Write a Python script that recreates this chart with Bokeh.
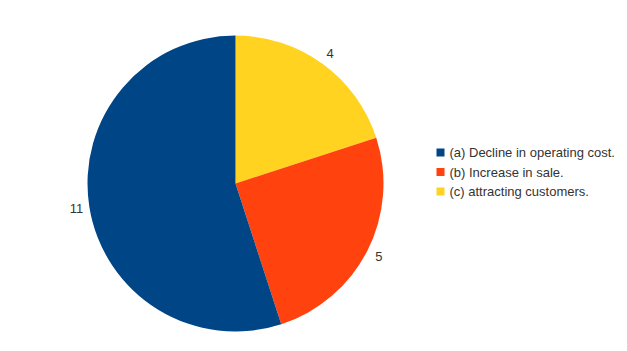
import math
from bokeh.plotting import figure
from bokeh.models import Range1d, ColumnDataSource
from bokeh.core.properties import value
from bokeh.embed import file_html
from bokeh.resources import INLINE

categories = ["(a) Decline in operating cost.", "(b) Increase in sale.", "(c) attracting customers."]
values = [11, 5, 4]
colors = ["#004586", "#ff420e", "#ffd320"]

W, H = 627, 351
cx, cy, R = 235, H - 183, 148
label_r = 161

p = figure(width=W, height=H, output_backend="svg", toolbar_location=None,
           x_range=Range1d(0, W), y_range=Range1d(0, H), min_border=0)
p.axis.visible = False
p.grid.visible = False
p.outline_line_color = None
p.background_fill_color = "white"

# drawing order: clockwise from top starting with the last (c), then (b), then (a)
order = [2, 1, 0]
total = sum(values)
start = math.pi / 2
starts, ends, cols, lx, ly, lt = [], [], [], [], [], []
for i in order:
    sweep = 2 * math.pi * values[i] / total
    end = start - sweep
    starts.append(end)
    ends.append(start)
    cols.append(colors[i])
    mid = (start + end) / 2
    lx.append(cx + label_r * math.cos(mid))
    ly.append(cy + label_r * math.sin(mid))
    lt.append(str(values[i]))
    start = end

src = ColumnDataSource(dict(s=starts, e=ends, c=cols))
p.wedge(x=cx, y=cy, radius=R, start_angle="s", end_angle="e", fill_color="c",
        line_color=None, source=src)

p.text(x=lx, y=ly, text=lt, text_font=value("Liberation Sans"), text_font_size="13px",
       text_color="#333333", text_align="center", text_baseline="middle")

# legend
leg_y0 = H - 152
step = 19.5
ly2 = [leg_y0 - k * step for k in range(len(categories))]
p.rect(x=[440] * 3, y=ly2, width=8, height=8, fill_color=colors, line_color=None)
p.text(x=[449] * 3, y=ly2, text=categories, text_font=value("Liberation Sans"),
       text_font_size="13px", text_color="#333333", text_align="left", text_baseline="middle")

open("out.html", "w").write(file_html(p, INLINE))
